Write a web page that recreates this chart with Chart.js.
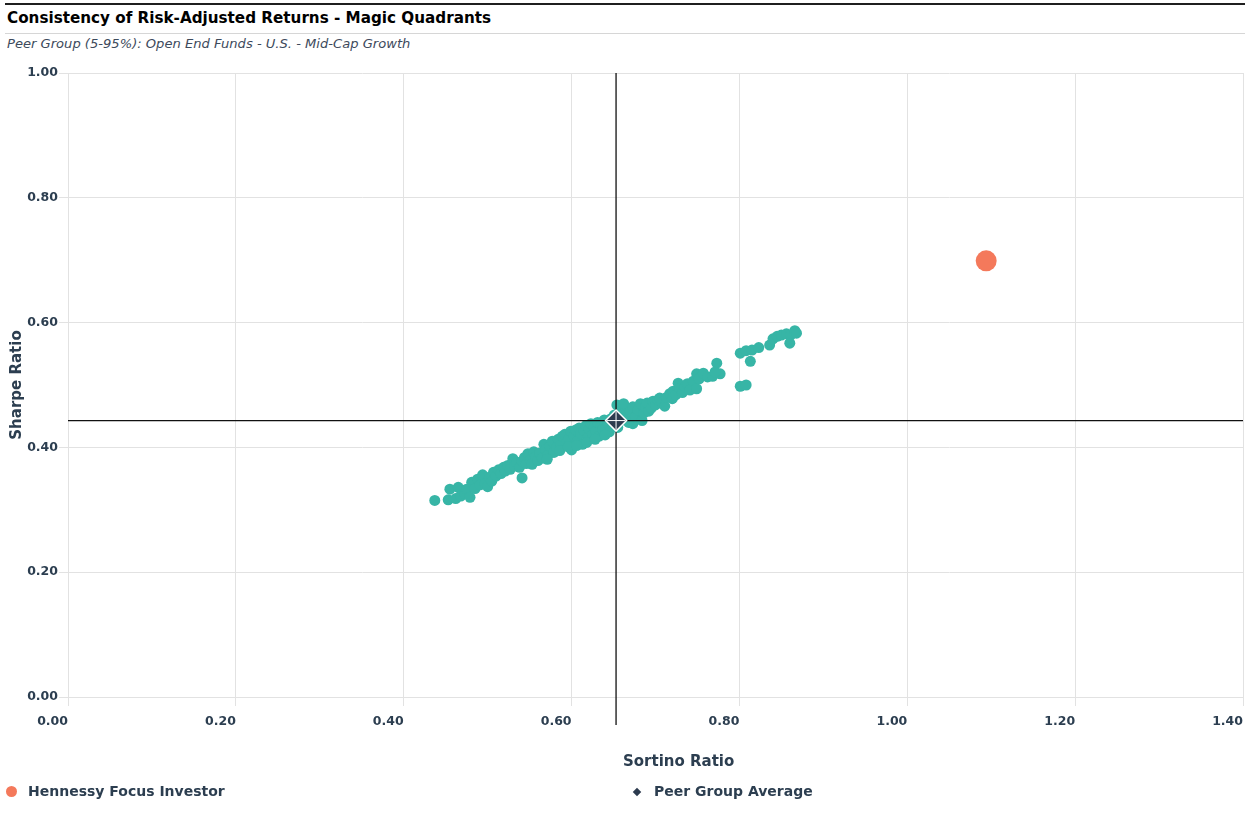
<!DOCTYPE html>
<html lang="en">
<head>
<meta charset="UTF-8">
<title>Consistency of Risk-Adjusted Returns - Magic Quadrants</title>
<script src="https://cdn.jsdelivr.net/npm/chart.js"></script>
<style>
body {
  margin: 0;
  width: 1250px;
  height: 824px;
  position: relative;
  overflow: hidden;
  background: #ffffff;
  font-family: 'DejaVu Sans', Verdana, sans-serif;
  color: #2c3e50;
}
#chart { position: absolute; left: 0; top: 0; }
.abs { position: absolute; white-space: nowrap; }
.top-rule { left: 5px; top: 3px; width: 1240px; height: 2px; background: #1f1f1f; }
.title { left: 7px; top: 8px; font-size: 15.2px; line-height: 20px; font-weight: bold; color: #000; }
.title-rule { left: 5px; top: 33px; width: 1240px; height: 1px; background: #d6d6d6; }
.subtitle { left: 7px; top: 36px; font-size: 13.1px; line-height: 16px; font-style: italic; color: #3d4a5c; }
.x-title { left: 623px; top: 752px; font-size: 15px; line-height: 18px; font-weight: bold; }
.legend-text { font-size: 14px; line-height: 18px; font-weight: bold; top: 782px; }
.dot { left: 6px; top: 786px; width: 11px; height: 11px; border-radius: 50%; background: #f4795b; }
.diamond { left: 634px; top: 789px; width: 6px; height: 6px; background: #2c3a4e; transform: rotate(45deg); }
</style>
</head>
<body>
<div class="abs top-rule"></div>
<div class="abs title">Consistency of Risk-Adjusted Returns - Magic Quadrants</div>
<div class="abs title-rule"></div>
<div class="abs subtitle">Peer Group (5-95%): Open End Funds - U.S. - Mid-Cap Growth</div>

<canvas id="chart" width="1250" height="824"></canvas>

<div class="abs x-title">Sortino Ratio</div>
<div class="abs dot"></div>
<div class="abs legend-text" style="left:28px">Hennessy Focus Investor</div>
<div class="abs diamond"></div>
<div class="abs legend-text" style="left:654px">Peer Group Average</div>

<script>
// [Sortino, Sharpe] for each peer fund
const peerFunds = [
  [0.437,0.315],[0.453,0.316],[0.455,0.333],[0.462,0.318],[0.465,0.336],[0.468,0.322],
  [0.473,0.326],[0.475,0.333],[0.479,0.320],[0.481,0.344],[0.485,0.334],[0.488,0.349],
  [0.491,0.340],[0.494,0.356],[0.497,0.342],[0.500,0.337],[0.502,0.352],[0.505,0.346],
  [0.507,0.360],[0.510,0.354],[0.513,0.364],[0.516,0.358],[0.519,0.368],[0.521,0.362],
  [0.524,0.371],[0.527,0.365],[0.530,0.382],[0.532,0.370],[0.535,0.376],[0.538,0.368],
  [0.541,0.351],[0.541,0.378],[0.544,0.384],[0.546,0.374],[0.548,0.390],[0.551,0.380],
  [0.553,0.373],[0.555,0.393],[0.557,0.385],[0.560,0.379],[0.562,0.391],[0.565,0.383],
  [0.567,0.405],[0.569,0.396],[0.572,0.388],[0.574,0.402],[0.577,0.410],[0.579,0.392],
  [0.582,0.400],[0.584,0.413],[0.587,0.404],[0.589,0.418],[0.592,0.421],[0.594,0.408],
  [0.597,0.414],[0.599,0.426],[0.600,0.396],[0.586,0.395],[0.596,0.401],[0.571,0.381],
  [0.603,0.418],[0.605,0.428],[0.607,0.410],[0.609,0.431],[0.611,0.422],[0.613,0.405],
  [0.615,0.427],[0.617,0.435],[0.619,0.415],[0.621,0.430],[0.623,0.438],[0.625,0.421],
  [0.627,0.433],[0.629,0.426],[0.631,0.440],[0.633,0.418],[0.635,0.436],[0.637,0.429],
  [0.639,0.444],[0.641,0.431],[0.643,0.439],[0.645,0.425],[0.647,0.446],[0.649,0.437],
  [0.651,0.452],[0.653,0.441],[0.655,0.432],[0.657,0.449],[0.659,0.460],[0.661,0.444],
  [0.663,0.466],[0.618,0.408],[0.628,0.413],[0.640,0.420],[0.606,0.403],
  [0.654,0.468],[0.662,0.470],[0.666,0.452],[0.668,0.440],[0.670,0.458],[0.673,0.465],
  [0.673,0.438],[0.676,0.449],[0.679,0.460],[0.682,0.470],[0.684,0.443],[0.686,0.455],
  [0.688,0.465],[0.690,0.471],[0.692,0.458],[0.695,0.463],[0.697,0.474],[0.700,0.468],
  [0.703,0.476],[0.705,0.479],[0.708,0.472],[0.711,0.466],[0.713,0.480],[0.717,0.486],
  [0.720,0.478],[0.721,0.490],[0.724,0.484],[0.727,0.503],[0.729,0.494],[0.732,0.488],
  [0.735,0.497],[0.738,0.502],[0.741,0.492],[0.745,0.506],[0.749,0.494],[0.749,0.518],
  [0.752,0.510],[0.757,0.519],[0.762,0.513],[0.768,0.514],[0.773,0.535],[0.777,0.518],
  [0.771,0.521],
  [0.801,0.551],[0.808,0.555],[0.815,0.556],[0.823,0.560],[0.813,0.538],[0.801,0.498],
  [0.808,0.500],[0.836,0.564],[0.840,0.574],[0.845,0.578],[0.850,0.580],[0.856,0.582],
  [0.861,0.580],[0.860,0.567],[0.866,0.587],[0.868,0.583]
];
const fund = [1.094, 0.699];          // Hennessy Focus Investor
const peerAverage = [0.653, 0.443];   // Peer Group Average
const sortinoTicks = [0, 0.2, 0.4, 0.6, 0.8, 1.0, 1.2, 1.4];
const sharpeTicks = [0, 0.2, 0.4, 0.6, 0.8, 1.0];

const textColor = '#2c3e50';
const gridColor = '#e2e2e2';
Chart.defaults.font.family = "'DejaVu Sans', Verdana, sans-serif";

// little white cross inside the average diamond
const diamondCross = {
  id: 'diamondCross',
  afterDatasetsDraw(chart) {
    const ctx = chart.ctx;
    const x = chart.scales.x.getPixelForValue(peerAverage[0]);
    const y = chart.scales.y.getPixelForValue(peerAverage[1]);
    ctx.save();
    ctx.strokeStyle = '#ffffff';
    ctx.lineWidth = 1;
    ctx.beginPath();
    ctx.moveTo(x - 9, y); ctx.lineTo(x + 9, y);
    ctx.moveTo(x, y - 9); ctx.lineTo(x, y + 9);
    ctx.stroke();
    ctx.restore();
  }
};

new Chart(document.getElementById('chart'), {
  type: 'scatter',
  data: {
    datasets: [
      {
        label: 'Peer Funds',
        data: peerFunds.map(p => ({ x: p[0], y: p[1] })),
        backgroundColor: '#37b5a6',
        borderWidth: 0,
        pointRadius: 5.5,
        order: 5
      },
      {
        label: 'vertical',
        type: 'line',
        data: [{ x: peerAverage[0], y: -0.045 }, { x: peerAverage[0], y: 1 }],
        borderColor: '#111111',
        borderWidth: 1.3,
        pointRadius: 0,
        showLine: true,
        clip: false,
        order: 4
      },
      {
        label: 'horizontal',
        type: 'line',
        data: [{ x: 0, y: peerAverage[1] }, { x: 1.4, y: peerAverage[1] }],
        borderColor: '#111111',
        borderWidth: 1.3,
        pointRadius: 0,
        showLine: true,
        clip: false,
        order: 4
      },
      {
        label: 'Peer Group Average',
        data: [{ x: peerAverage[0], y: peerAverage[1] }],
        pointStyle: 'rectRot',
        pointRadius: 10.5,
        backgroundColor: '#2c3a4e',
        borderColor: '#ffffff',
        borderWidth: 1.5,
        order: 2
      },
      {
        label: 'Hennessy Focus Investor',
        data: [{ x: fund[0], y: fund[1] }],
        pointRadius: 10.5,
        backgroundColor: '#f4795b',
        borderWidth: 0,
        order: 1
      }
    ]
  },
  options: {
    responsive: false,
    animation: false,
    layout: { autoPadding: false, padding: { left: 0, right: 7, top: 73, bottom: 0 } },
    plugins: {
      legend: { display: false },
      tooltip: { enabled: false }
    },
    scales: {
      x: {
        min: 0,
        max: 1.4,
        afterBuildTicks: s => { s.ticks = sortinoTicks.map(v => ({ value: v })); },
        afterFit: s => { s.height = 127; s.paddingLeft = 0; s.paddingRight = 0; },
        ticks: {
          align: 'end',
          padding: 8,
          color: textColor,
          font: { size: 12.5, weight: 'bold' },
          callback: v => Number(v).toFixed(2)
        },
        grid: { color: gridColor, tickLength: 9 },
        border: { color: gridColor },
        title: { display: false }
      },
      y: {
        min: 0,
        max: 1,
        afterBuildTicks: s => { s.ticks = sharpeTicks.map(v => ({ value: v })); },
        afterFit: s => { s.width = 68; },
        ticks: {
          padding: 1,
          color: textColor,
          font: { size: 12.5, weight: 'bold' },
          callback: v => Number(v).toFixed(2)
        },
        grid: { color: gridColor, tickLength: 9 },
        border: { color: gridColor },
        title: {
          display: true,
          text: 'Sharpe Ratio',
          color: textColor,
          font: { size: 15, weight: 'bold' },
          padding: { top: 8, bottom: 0 }
        }
      }
    }
  },
  plugins: [diamondCross]
});
</script>
</body>
</html>
